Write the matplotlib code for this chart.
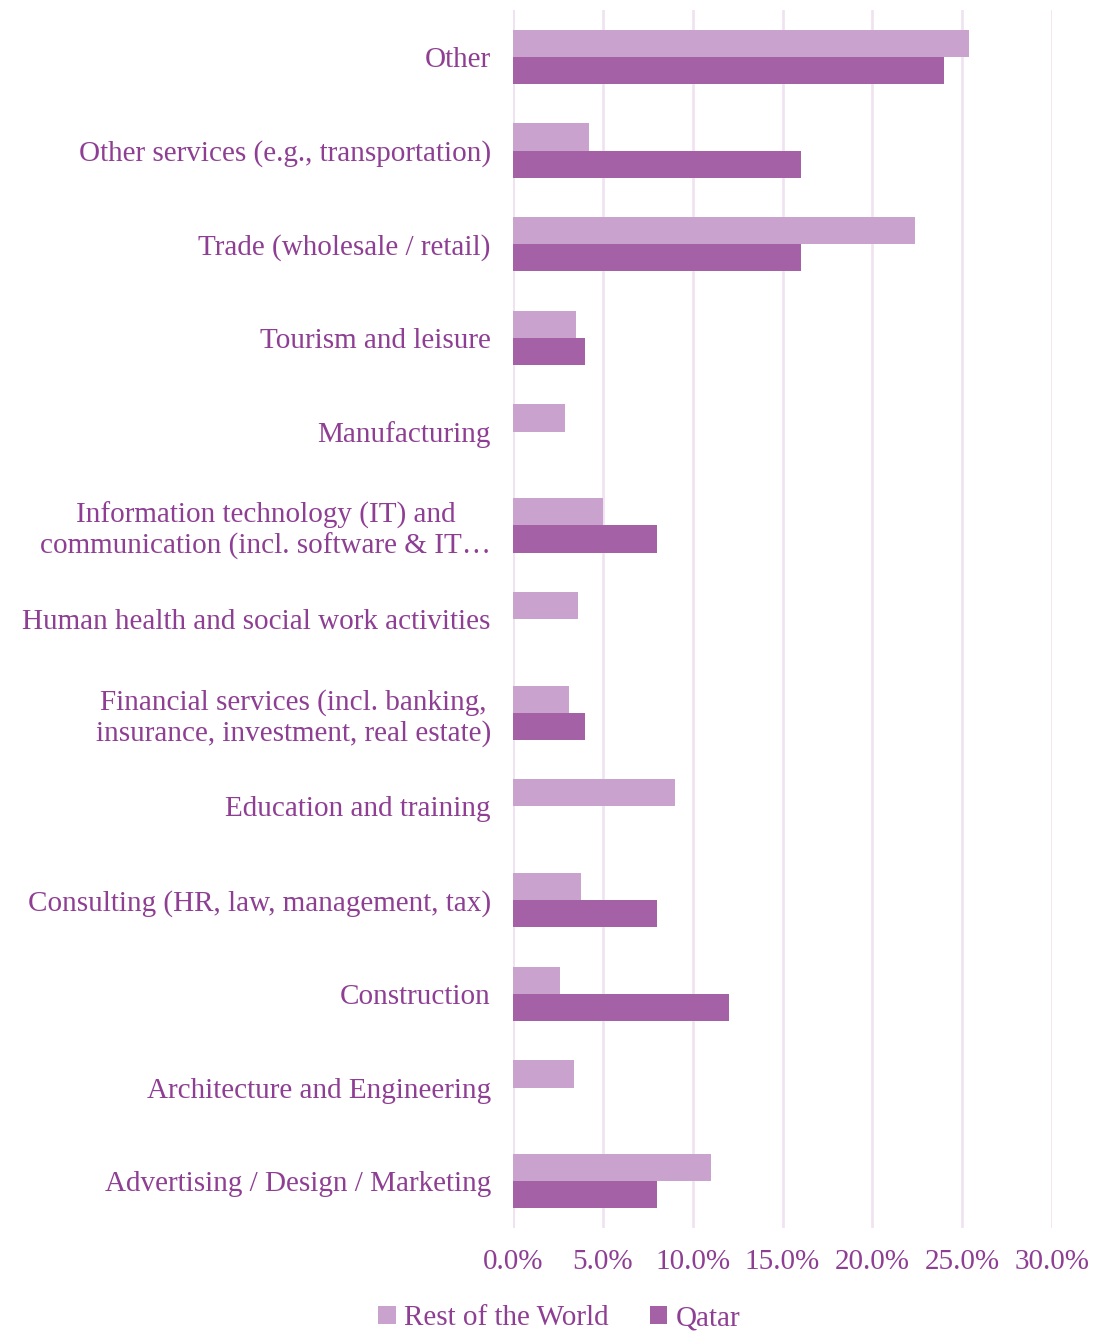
import matplotlib
matplotlib.use("Agg")
import matplotlib.pyplot as plt
import numpy as np
from matplotlib.ticker import FuncFormatter

# Sectors, listed top to bottom
categories = [
    "Other",
    "Other services (e.g., transportation)",
    "Trade (wholesale / retail)",
    "Tourism and leisure",
    "Manufacturing",
    "Information technology (IT) and\ncommunication (incl. software & IT\u2026",
    "Human health and social work activities",
    "Financial services (incl. banking,\ninsurance, investment, real estate)",
    "Education and training",
    "Consulting (HR, law, management, tax)",
    "Construction",
    "Architecture and Engineering",
    "Advertising / Design / Marketing",
]

# Share of companies per sector (%)
rest_of_world = [25.4, 4.2, 22.4, 3.5, 2.9, 5.0, 3.6, 3.1, 9.0, 3.8, 2.6, 3.4, 11.0]
qatar = [24.0, 16.0, 16.0, 4.0, 0.0, 8.0, 0.0, 4.0, 0.0, 8.0, 12.0, 0.0, 8.0]

x_ticks = [0, 5, 10, 15, 20, 25, 30]

text_color = "#8E3F93"
light = "#C9A3CD"
dark = "#A461A6"
grid_color = "#F0E3F1"

plt.rcParams["font.family"] = ["Liberation Serif", "DejaVu Serif"]

fig = plt.figure(figsize=(10.97, 13.35), dpi=100)
ax = fig.add_axes([0.4677, 0.0801, 0.4913, 0.9124])

n = len(categories)
y = np.arange(n)
h = 0.29

ax.barh(y - h / 2, rest_of_world, height=h, color=light, label="Rest of the World", zorder=3)
ax.barh(y + h / 2, qatar, height=h, color=dark, label="Qatar", zorder=3)

ax.set_ylim(n - 0.5, -0.5)
ax.set_xlim(0, 30)
ax.set_xticks(x_ticks)
ax.xaxis.set_major_formatter(FuncFormatter(lambda v, p: f"{v:.1f}%"))
ax.set_yticks(y)
ax.set_yticklabels(categories, multialignment="center")

ax.grid(axis="x", color=grid_color, linewidth=2.0, zorder=0)
ax.set_axisbelow(True)
for s in ax.spines.values():
    s.set_visible(False)
ax.axvline(0, color=grid_color, linewidth=2.0, zorder=1)

ax.tick_params(axis="both", length=0, labelcolor=text_color, labelsize=21)
ax.tick_params(axis="y", pad=16)
ax.tick_params(axis="x", pad=15)

handles, labels = ax.get_legend_handles_labels()
fig.legend(handles, labels, loc="center", bbox_to_anchor=(0.51, 0.0125),
           ncol=2, frameon=False, fontsize=21, labelcolor=text_color,
           handlelength=0.6, handleheight=0.6, handletextpad=0.3, columnspacing=1.4,
           borderpad=0.1)

fig.savefig("out.png", dpi=100)
